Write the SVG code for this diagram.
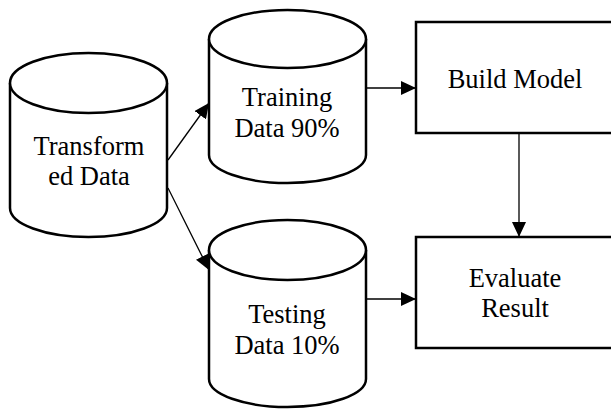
<svg xmlns="http://www.w3.org/2000/svg" width="611" height="410" viewBox="0 0 611 410">
  <style>
    .shape { fill: #fff; stroke: #000; stroke-width: 2.5; }
    .conn { fill: none; stroke: #000; stroke-width: 1.3; }
    .label { font-family: "Liberation Serif", "Times New Roman", serif; font-size: 26.5px; fill: #000; text-anchor: middle; }
  </style>
  <defs>
    <marker id="arrow" viewBox="0 0 15 14" refX="15" refY="7" markerWidth="15" markerHeight="14" markerUnits="userSpaceOnUse" orient="auto">
      <path d="M0,0 L15,7 L0,14 Z" fill="#000"/>
    </marker>
  </defs>

  <!-- Transformed Data store -->
  <g id="transformed-data">
    <path class="shape" d="M10,83 L10,208 A78.5,29 0 0 0 167,208 L167,83"/>
    <ellipse class="shape" cx="88.5" cy="83" rx="78.5" ry="30"/>
    <text class="label" x="89" y="155">Transform</text>
    <text class="label" x="89" y="185">ed Data</text>
  </g>

  <!-- Training Data store -->
  <g id="training-data">
    <path class="shape" d="M209,39 L209,155 A78.5,28 0 0 0 366,155 L366,39"/>
    <ellipse class="shape" cx="287.5" cy="39" rx="78.5" ry="29"/>
    <text class="label" x="287" y="106">Training</text>
    <text class="label" x="287" y="137">Data 90%</text>
  </g>

  <!-- Testing Data store -->
  <g id="testing-data">
    <path class="shape" d="M209,250 L209,379 A78.5,28 0 0 0 366,379 L366,250"/>
    <ellipse class="shape" cx="287.5" cy="250" rx="78.5" ry="30"/>
    <text class="label" x="287" y="323">Testing</text>
    <text class="label" x="287" y="354">Data 10%</text>
  </g>

  <!-- Build Model step -->
  <g id="build-model">
    <rect class="shape" x="416" y="22" width="200" height="111"/>
    <text class="label" x="515" y="88">Build Model</text>
  </g>

  <!-- Evaluate Result step -->
  <g id="evaluate-result">
    <rect class="shape" x="416" y="237" width="200" height="111"/>
    <text class="label" x="515" y="287">Evaluate</text>
    <text class="label" x="515" y="317">Result</text>
  </g>

  <!-- Connectors -->
  <g id="connectors">
    <line class="conn" x1="168" y1="160" x2="209" y2="103" marker-end="url(#arrow)"/>
    <line class="conn" x1="168" y1="188" x2="209" y2="270" marker-end="url(#arrow)"/>
    <line class="conn" x1="366" y1="88" x2="416" y2="88" marker-end="url(#arrow)"/>
    <line class="conn" x1="366" y1="299" x2="416" y2="299" marker-end="url(#arrow)"/>
    <line class="conn" x1="519" y1="133" x2="519" y2="237" marker-end="url(#arrow)"/>
  </g>
</svg>
